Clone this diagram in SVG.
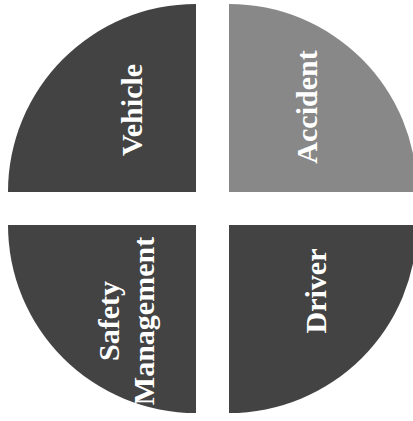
<svg xmlns="http://www.w3.org/2000/svg" width="413" height="421" viewBox="0 0 413 421">
  <style>
    .q { stroke: none; }
    .dark { fill: #434343; }
    .light { fill: #888888; }
    .lbl { font-family: "Liberation Serif", "DejaVu Serif", serif; font-weight: bold; font-size: 30px; fill: #ffffff; text-anchor: middle; }
  </style>
  <rect width="413" height="421" fill="#ffffff"/>
  <g id="vehicle">
    <path class="q dark" d="M196,192 L8,192 A188,188 0 0 1 196,4 Z"/>
    <text class="lbl" transform="translate(142,110) rotate(-90)">Vehicle</text>
  </g>
  <g id="accident">
    <path class="q light" d="M229,192 L229,4 A188,188 0 0 1 417,192 Z"/>
    <text class="lbl" transform="translate(317,107) rotate(-90)">Accident</text>
  </g>
  <g id="safety-management">
    <path class="q dark" d="M196,225 L196,413 A188,188 0 0 1 8,225 Z"/>
    <text class="lbl" transform="translate(119,321) rotate(-90)">Safety</text>
    <text class="lbl" transform="translate(154,321) rotate(-90)">Management</text>
  </g>
  <g id="driver">
    <path class="q dark" d="M229,225 L417,225 A188,188 0 0 1 229,413 Z"/>
    <text class="lbl" transform="translate(326,291) rotate(-90)">Driver</text>
  </g>
  <g id="connectors"></g>
</svg>
